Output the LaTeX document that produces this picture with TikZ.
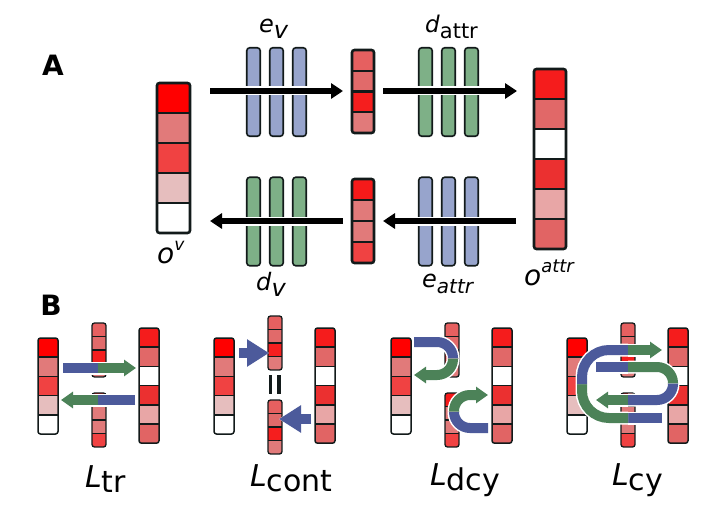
\documentclass[tikz,border=0pt]{standalone}
\usepackage{fontspec}
\setmainfont{DejaVu Sans}
\usetikzlibrary{arrows.meta,calc,positioning}

\definecolor{stackdark}{RGB}{18,26,26}
\definecolor{barblue}{RGB}{151,164,204}
\definecolor{bargreen}{RGB}{126,176,135}
\definecolor{bandblue}{RGB}{76,90,155}
\definecolor{bandgreen}{RGB}{76,130,88}
% input vector
\definecolor{redA}{RGB}{255,0,0}
\definecolor{redB}{RGB}{225,122,122}
\definecolor{redC}{RGB}{240,66,66}
\definecolor{redD}{RGB}{230,190,190}
% attribute vector
\definecolor{oaA}{RGB}{245,28,28}
\definecolor{oaB}{RGB}{225,104,104}
\definecolor{oaC}{RGB}{235,48,48}
\definecolor{oaD}{RGB}{232,166,166}
\definecolor{oaE}{RGB}{225,100,100}
% latent vectors
\definecolor{ztA}{RGB}{230,96,96}
\definecolor{ztB}{RGB}{225,106,106}
\definecolor{ztC}{RGB}{245,30,30}
\definecolor{ztD}{RGB}{225,122,122}
\definecolor{zbA}{RGB}{245,26,26}
\definecolor{zbB}{RGB}{225,122,122}
\definecolor{zbC}{RGB}{225,122,122}
\definecolor{zbD}{RGB}{240,66,66}

\tikzset{
  stack border/.style={draw=stackdark, line width=2.6pt, rounded corners=2.5pt},
  stack divider/.style={draw=stackdark, line width=2.2pt},
  encbar/.style={draw=stackdark, fill=barblue, line width=1.6pt, rounded corners=3pt,
    minimum width=13.5pt, minimum height=88.5pt, inner sep=0pt},
  decbar/.style={encbar, fill=bargreen},
  fatarrow/.style={line width=6pt, -{Triangle[length=12pt,width=15pt]},
    preaction={draw=white, line width=9pt, -{Triangle[length=13pt,width=18pt]}}},
  band/.style={line width=10pt, preaction={draw=white, line width=13pt}},
  band end/.style={line width=10pt, -{Triangle[length=12pt,width=16pt]},
    preaction={draw=white, line width=13pt, -{Triangle[length=13.5pt,width=20pt]}}},
  big band end/.style={line width=10pt, -{Triangle[length=22pt,width=26pt]},
    preaction={draw=white, line width=13pt, -{Triangle[length=23.5pt,width=30pt]}}},
  lbl/.style={inner sep=0pt, anchor=base west, font=\fontsize{24}{28}\selectfont},
  panel lbl/.style={inner sep=0pt, font=\bfseries\fontsize{28}{30}\selectfont},
}

% column of coloured cells: [style]{name}{x}{y}{width}{cell height}{cells}{colours}
\newcommand{\cellstack}[8][]{%
  \pgfmathsetmacro\stackh{#6*#7}
  \node[inner sep=0pt, outer sep=0pt, minimum width=#5pt, minimum height=\stackh pt,
    anchor=north west] (#2) at (#3,#4) {};
  \begin{scope}
    \clip[rounded corners=2pt] (#2.north west) rectangle (#2.south east);
    \foreach \c [count=\i] in {#8} {
      \fill[\c] (#3,{#4+(\i-1)*#6}) rectangle ++(#5,#6);
      \ifnum\i>1 \draw[stack divider,#1] (#3,{#4+(\i-1)*#6}) -- ++(#5,0); \fi
    }
  \end{scope}
  \draw[stack border,#1] (#2.north west) rectangle (#2.south east);
}
\newcommand{\lowsub}[3][6pt]{\raisebox{-#1}{\fontsize{#2}{#2}\selectfont #3}}
\newcommand{\highsup}[2]{\raisebox{13pt}{\fontsize{#1}{#1}\selectfont #2}}

\begin{document}
\begin{tikzpicture}[x=1pt,y=-1pt]
\useasboundingbox (0,0) rectangle (726,511);

%% A
\node[panel lbl] (lblA) at (53,65) {A};

\cellstack{ov}{157}{83}{33}{30}{5}{redA,redB,redC,redD,white}
\cellstack{zt}{352}{50}{22}{20.75}{4}{ztA,ztB,ztC,ztD}
\cellstack{oattr}{534}{69}{32}{30}{6}{oaA,oaB,white,oaC,oaD,oaE}
\cellstack{zb}{352}{179}{22}{21}{4}{zbA,zbB,zbC,zbD}

\foreach \i/\x in {1/253.5,2/276.5,3/299.5}
  \node[encbar] (ev\i) at (\x,92) {};
\foreach \i/\x in {1/425.5,2/448.5,3/471.5}
  \node[decbar] (da\i) at (\x,92) {};
\foreach \i/\x in {1/253.5,2/276.5,3/299.5}
  \node[decbar] (dv\i) at (\x,221.5) {};
\foreach \i/\x in {1/425.5,2/448.5,3/471.5}
  \node[encbar] (ea\i) at (\x,221.5) {};

\coordinate (a1s) at (210,91);
\coordinate (a1e) at (343,91);
\coordinate (a2s) at (383,91);
\coordinate (a2e) at (517,91);
\coordinate (a3s) at (516,221);
\coordinate (a3e) at (383,221);
\coordinate (a4s) at (343,221);
\coordinate (a4e) at (210,221);
\draw[fatarrow] (a1s) -- (a1e);
\draw[fatarrow] (a2s) -- (a2e);
\draw[fatarrow] (a3s) -- (a3e);
\draw[fatarrow] (a4s) -- (a4e);

\node[lbl] (evl) at (259,33) {\textit{e}\lowsub{24}{\textit{v}}};
\node[lbl, font=\fontsize{23}{28}\selectfont] (dattrl) at (425,33) {\textit{d}\lowsub{21}{attr}};
\node[lbl, font=\fontsize{28}{30}\selectfont] (ovl) at (157,263) {\textit{o}\highsup{17}{\textit{v}}};
\node[lbl] (dvl) at (256,290) {\textit{d}\lowsub{24}{\textit{v}}};
\node[lbl] (eattrl) at (422,287) {\textit{e}\lowsub{20}{\textit{attr}}};
\node[lbl, font=\fontsize{28}{30}\selectfont] (oattrl) at (524,285) {\textit{o}\highsup{18}{\textit{attr}}};

%% B
\node[panel lbl] (lblB) at (51,305) {B};

\foreach \p/\px in {1/38,2/214,3/391,4/567}{
  \cellstack[line width=1.5pt]{lv\p}{\px}{338}{20}{19.2}{5}{redA,redB,redC,redD,white}
  \cellstack[line width=1.5pt]{rv\p}{\px+101}{328}{20}{19.2}{6}{oaA,oaB,white,oaC,oaD,oaE}
}
\cellstack[line width=1.3pt]{mt1}{92}{323}{14}{13.5}{4}{ztA,ztB,ztC,ztD}
\cellstack[line width=1.3pt]{mb1}{92}{393}{14}{13.5}{4}{zbA,zbB,zbC,zbD}
\cellstack[line width=1.3pt]{mt2}{268}{316}{14}{13.5}{4}{ztA,ztB,ztC,ztD}
\cellstack[line width=1.3pt]{mb2}{268}{400}{14}{13.5}{4}{ztA,ztB,ztC,ztD}
\cellstack[line width=1.3pt]{mt3}{445}{323}{14}{13.5}{4}{ztA,ztB,ztC,ztD}
\cellstack[line width=1.3pt]{mb3}{445}{393}{14}{13.5}{4}{zbA,zbB,zbC,zbD}
\cellstack[line width=1.3pt]{mt4}{621}{323}{14}{13.5}{4}{ztA,ztB,ztC,ztD}
\cellstack[line width=1.3pt]{mb4}{621}{393}{14}{13.5}{4}{zbA,zbB,zbC,zbD}

% translation
\draw[band, bandblue] (63,368) -- (98,368);
\draw[band end, bandgreen] (98,368) -- (136,368);
\draw[band, bandblue] (135,400) -- (98,400);
\draw[band end, bandgreen] (98,400) -- (61,400);

% content
\draw[big band end, bandblue] (239,353) -- (269,353);
\draw[big band end, bandblue] (311,419) -- (279,419);
\draw[stackdark, line width=3.6pt] (270.5,375) -- (270.5,394);
\draw[stackdark, line width=3.6pt] (279,375) -- (279,394);

% domain cycle
\draw[band, bandblue, rounded corners=16pt] (414,342) -- (453,342) -- (453,358.5);
\draw[band end, bandgreen, rounded corners=16pt] (453,358.5) -- (453,375) -- (414,375);
\draw[band, bandblue, rounded corners=16pt] (488,428) -- (454,428) -- (454,411.5);
\draw[band end, bandgreen, rounded corners=16pt] (454,411.5) -- (454,395) -- (488,395);

% cycle
\draw[band, bandblue] (662,418) -- (628,418);
\draw[band, bandgreen, rounded corners=27pt] (628,418) -- (582,418) -- (582,384);
\draw[band, bandblue, rounded corners=27pt] (582,384) -- (582,350) -- (628,350);
\draw[band end, bandgreen] (628,350) -- (662,350);
\draw[band, bandblue] (596,367) -- (628,367);
\draw[band, bandgreen, rounded corners=16pt] (628,367) -- (673,367) -- (673,383.5);
\draw[band, bandblue, rounded corners=16pt] (673,383.5) -- (673,400) -- (628,400);
\draw[band end, bandgreen] (628,400) -- (596,400);

\node[lbl, font=\fontsize{30}{32}\selectfont] (ltr) at (85,487) {\textit{L}\lowsub[5pt]{30}{tr}};
\node[lbl, font=\fontsize{30}{32}\selectfont] (lcont) at (250,486) {\textit{L}\lowsub[5pt]{30}{cont}};
\node[lbl, font=\fontsize{30}{32}\selectfont] (ldcy) at (430,485) {\textit{L}\lowsub[5pt]{30}{dcy}};
\node[lbl, font=\fontsize{30}{32}\selectfont] (lcy) at (612,485) {\textit{L}\lowsub[5pt]{30}{cy}};
\end{tikzpicture}
\end{document}
